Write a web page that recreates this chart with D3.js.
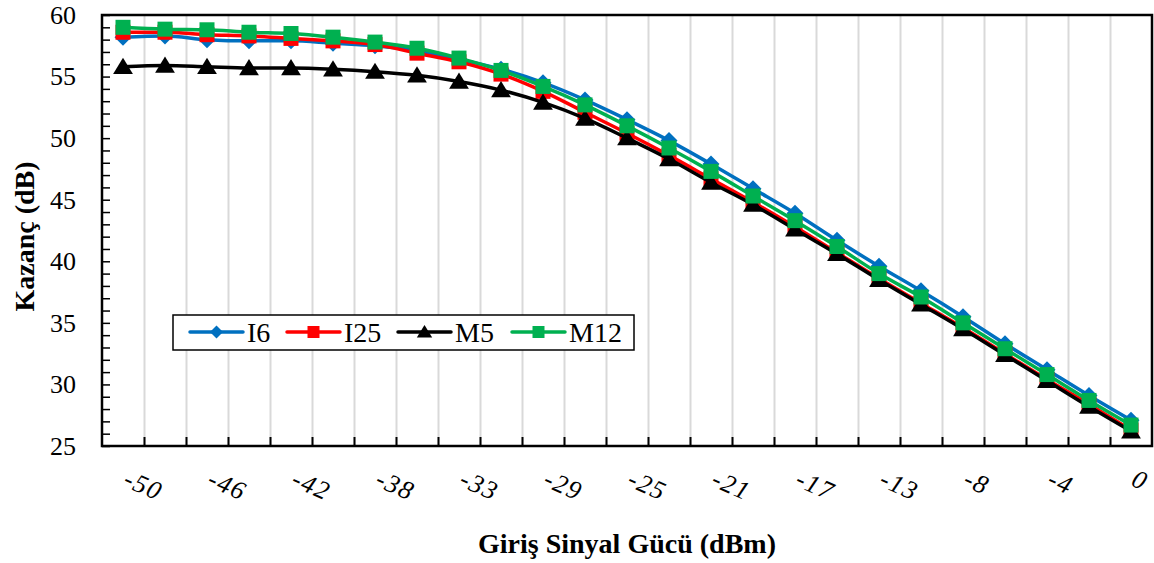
<!DOCTYPE html>
<html>
<head>
<meta charset="utf-8">
<script src="https://cdnjs.cloudflare.com/ajax/libs/d3/7.8.5/d3.min.js"></script>
<style>
    body { margin: 0; background: #fff; overflow: hidden; }
    svg { display: block; }
</style>
</head>
<body>
<script>
// input power categories (dBm) and the labels Excel printed under every other one
const inputPower = [-50, -47.92, -45.83, -43.75, -41.67, -39.58, -37.5, -35.42, -33.33, -31.25,
    -29.17, -27.08, -25, -22.92, -20.83, -18.75, -16.67, -14.58, -12.5, -10.42,
    -8.33, -6.25, -4.17, -2.08, 0];
const tickLabels = ["-50", "-46", "-42", "-38", "-33", "-29", "-25", "-21", "-17", "-13", "-8", "-4", "0"];
const yTicks = [25, 30, 35, 40, 45, 50, 55, 60];

// gain (dB)
const i6 = [58.2, 58.3, 58.0, 57.9, 57.9, 57.7, 57.5, 57.1, 56.4, 55.6,
    54.5, 53.1, 51.5, 49.8, 47.9, 45.9, 43.9, 41.7, 39.6, 37.6,
    35.5, 33.3, 31.2, 29.1, 27.1];
const i25 = [58.6, 58.6, 58.4, 58.3, 58.1, 57.9, 57.6, 56.9, 56.2, 55.2,
    53.8, 52.1, 50.4, 48.6, 46.7, 44.8, 42.8, 40.7, 38.6, 36.6,
    34.6, 32.5, 30.4, 28.4, 26.3];
const m5 = [55.8, 55.9, 55.8, 55.7, 55.7, 55.6, 55.4, 55.1, 54.6, 53.9,
    52.9, 51.6, 50.0, 48.3, 46.4, 44.6, 42.6, 40.6, 38.5, 36.5,
    34.5, 32.4, 30.3, 28.2, 26.2];
const m12 = [59.0, 58.85, 58.8, 58.6, 58.5, 58.2, 57.8, 57.3, 56.5, 55.5,
    54.2, 52.7, 51.0, 49.2, 47.3, 45.3, 43.3, 41.2, 39.0, 37.1,
    35.0, 32.9, 30.8, 28.7, 26.7];

const series = [
    { name: "I6", values: i6, color: "#0070c0", marker: "diamond" },
    { name: "I25", values: i25, color: "#ff0000", marker: "square" },
    { name: "M5", values: m5, color: "#000000", marker: "triangle" },
    { name: "M12", values: m12, color: "#00b050", marker: "square" }
];

const width = 1154, height = 563;
const plotLeft = 102, plotRight = 1152, plotTop = 15, plotBottom = 446;
const serif = "'Liberation Serif', 'Times New Roman', serif";

const svg = d3.select("body").append("svg")
    .attr("width", width)
    .attr("height", height)
    .attr("font-family", serif);

const x = d3.scaleBand()
    .domain(d3.range(inputPower.length))
    .range([plotLeft, plotRight])
    .padding(0);

// boundaries between categories, for ticks and gridlines
const xEdge = d3.scaleLinear()
    .domain([0, inputPower.length])
    .range([plotLeft, plotRight]);

const y = d3.scaleLinear()
    .domain([25, 60])
    .range([plotBottom, plotTop]);

// vertical gridlines
svg.append("g")
    .attr("transform", `translate(0,${plotBottom})`)
    .call(d3.axisBottom(xEdge).tickValues(d3.range(1, inputPower.length)).tickSize(-(plotBottom - plotTop)).tickFormat(""))
    .call(g => g.select(".domain").remove())
    .call(g => g.selectAll("line").attr("stroke", "#d9d9d9").attr("stroke-width", 2));

// x ticks (inside)
svg.append("g")
    .attr("transform", `translate(0,${plotBottom})`)
    .call(d3.axisBottom(xEdge).tickValues(d3.range(1, inputPower.length)).tickSize(-9).tickFormat(""))
    .call(g => g.select(".domain").remove())
    .call(g => g.selectAll("line").attr("stroke", "#000").attr("stroke-width", 2));

// y ticks: minor every 1 dB, major every 5 dB
svg.append("g")
    .attr("transform", `translate(${plotLeft},0)`)
    .call(d3.axisLeft(y).tickValues(d3.range(25, 61, 1)).tickSize(-8).tickFormat(""))
    .call(g => g.select(".domain").remove())
    .call(g => g.selectAll("line").attr("stroke", "#000").attr("stroke-width", 1.5));

svg.append("g")
    .attr("transform", `translate(${plotLeft},0)`)
    .call(d3.axisLeft(y).tickValues(yTicks).tickSize(0).tickPadding(26))
    .attr("font-family", serif)
    .attr("font-size", 26)
    .call(g => g.select(".domain").remove())
    .call(g => g.selectAll("text").attr("fill", "#000"));

// plot frame
svg.append("rect")
    .attr("x", plotLeft)
    .attr("y", plotTop)
    .attr("width", plotRight - plotLeft)
    .attr("height", plotBottom - plotTop)
    .attr("fill", "none")
    .attr("stroke", "#000")
    .attr("stroke-width", 2.5);

// x tick labels, rotated like the Excel ones
svg.append("g").selectAll("text")
    .data(tickLabels)
    .join("text")
    .attr("font-size", 26)
    .attr("font-style", "italic")
    .attr("letter-spacing", 1.5)
    .attr("text-anchor", "start")
    .attr("transform", (d, i) => `translate(${x(i * 2) + x.bandwidth() / 2 - 1},${485}) rotate(24)`)
    .text(d => d);

// axis titles
svg.append("text")
    .attr("font-size", 28)
    .attr("font-weight", "bold")
    .attr("text-anchor", "middle")
    .attr("x", (plotLeft + plotRight) / 2)
    .attr("y", 553)
    .text("Giriş Sinyal Gücü (dBm)");

svg.append("text")
    .attr("font-size", 28)
    .attr("font-weight", "bold")
    .attr("text-anchor", "middle")
    .attr("transform", `translate(34,${(plotTop + plotBottom) / 2 + 6}) rotate(-90)`)
    .text("Kazanç (dB)");

const cx = i => x(i) + x.bandwidth() / 2;

function markerPath(type, s) {
    if (type === "diamond") return `M0,${-s}L${s},0L0,${s}L${-s},0Z`;
    if (type === "triangle") return `M0,${-s}L${s * 1.1},${s * 0.8}L${-s * 1.1},${s * 0.8}Z`;
    return `M${-s},${-s}H${s}V${s}H${-s}Z`;
}
const markerSize = { diamond: 8.5, triangle: 9, square: 7.5 };

const line = d3.line()
    .x((d, i) => cx(i))
    .y(d => y(d))
    .curve(d3.curveMonotoneX);

series.forEach(s => {
    const g = svg.append("g");
    g.append("path")
        .datum(s.values)
        .attr("d", line)
        .attr("fill", "none")
        .attr("stroke", s.color)
        .attr("stroke-width", 3.5);
    g.selectAll("path.mk")
        .data(s.values)
        .join("path")
        .attr("class", "mk")
        .attr("d", markerPath(s.marker, markerSize[s.marker]))
        .attr("transform", (d, i) => `translate(${cx(i)},${y(d)})`)
        .attr("fill", s.color);
});

// legend
const legend = svg.append("g");
legend.append("rect")
    .attr("x", 173)
    .attr("y", 315)
    .attr("width", 461)
    .attr("height", 35)
    .attr("fill", "#fff")
    .attr("stroke", "#000")
    .attr("stroke-width", 1.5);

const legendX = [190, 287, 398, 512];
const legendSize = { diamond: 6.5, triangle: 7, square: 6 };
series.forEach((s, i) => {
    const g = legend.append("g").attr("transform", `translate(${legendX[i]},332)`);
    g.append("line")
        .attr("x1", 0).attr("x2", 53)
        .attr("stroke", s.color)
        .attr("stroke-width", 3.5)
        .attr("stroke-linecap", "round");
    g.append("path")
        .attr("d", markerPath(s.marker, legendSize[s.marker]))
        .attr("transform", "translate(26.5,0)")
        .attr("fill", s.color);
    g.append("text")
        .attr("font-size", 28)
        .attr("x", 57)
        .attr("y", 10)
        .text(s.name);
});
</script>
</body>
</html>
